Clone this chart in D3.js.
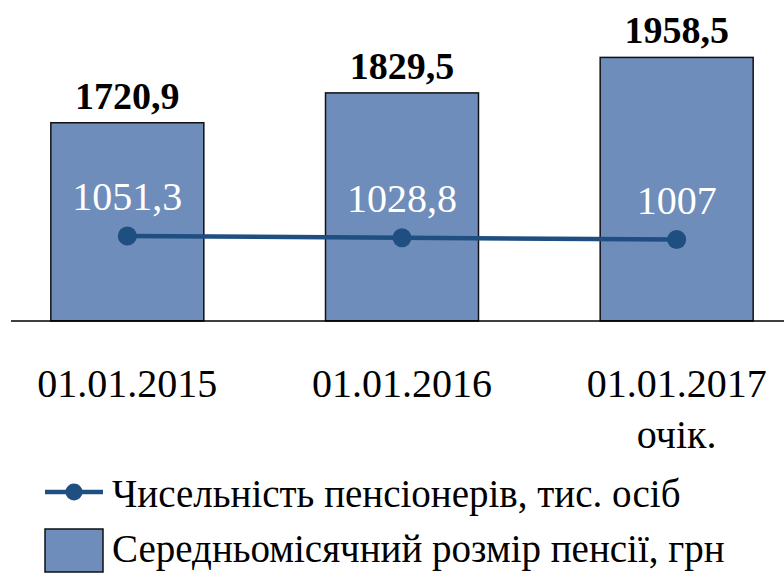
<!DOCTYPE html>
<html>
<head>
<meta charset="utf-8">
<script src="https://d3js.org/d3.v7.min.js"></script>
<style>
    body { margin: 0; background: #fff; }
    svg text, svg tspan { font-family: "Liberation Serif", "Times New Roman", Tinos, serif !important; }
</style>
</head>
<body>
<script>
        // Data
        const dates = ["01.01.2015", "01.01.2016", "01.01.2017"];
        const dateNotes = ["", "", "очік."];
        const avgPension = [1720.9, 1829.5, 1958.5];     // bars, грн
        const pensioners = [1051.3, 1028.8, 1007];        // line, тис. осіб
        const seriesNames = ["Чисельність пенсіонерів, тис. осіб", "Середньомісячний розмір пенсії, грн"];

        const width = 784, height = 575;
        const barColor = "#6f8dba";
        const lineColor = "#1f4e80";
        const font = '"Liberation Serif", "Times New Roman", Tinos, serif';
        const fmt = v => String(v).replace(".", ",");

        const svg = d3.select("body").append("svg")
            .attr("width", width)
            .attr("height", height);

        // every label gets the serif face
        const serif = sel => sel.attr("font-family", font).style("font-family", font, "important");

        const x = d3.scaleBand()
            .domain(dates)
            .range([-10, 814])
            .paddingInner(0.443)
            .paddingOuter(0.2215);

        // primary axis (bars) and secondary axis (line)
        const yBar = d3.scaleLinear().domain([1000, 2000]).range([321, 46]);
        const yLine = d3.scaleLinear().domain([0, 3400]).range([321, 46]);

        // bars
        svg.selectAll("rect.bar")
            .data(avgPension)
            .join("rect")
            .attr("class", "bar")
            .attr("x", (d, i) => x(dates[i]))
            .attr("y", d => yBar(d))
            .attr("width", x.bandwidth())
            .attr("height", d => yBar.range()[0] - yBar(d))
            .attr("fill", barColor)
            .attr("stroke", "#111")
            .attr("stroke-width", 1.5);

        // bar labels
        svg.selectAll("text.barlab")
            .data(avgPension)
            .join("text")
            .attr("class", "barlab")
            .attr("x", (d, i) => x(dates[i]) + x.bandwidth() / 2)
            .attr("y", d => yBar(d) - 14)
            .attr("text-anchor", "middle")
            .attr("font-weight", "bold")
            .attr("font-size", 38)
            .attr("fill", "#000")
            .call(serif)
            .text(fmt);

        // category axis line
        svg.append("line")
            .attr("x1", 11).attr("x2", width)
            .attr("y1", 321).attr("y2", 321)
            .attr("stroke", "#000")
            .attr("stroke-width", 1.5);

        // line series
        const cx = i => x(dates[i]) + x.bandwidth() / 2;
        const line = d3.line()
            .x((d, i) => cx(i))
            .y(d => yLine(d));

        svg.append("path")
            .datum(pensioners)
            .attr("d", line)
            .attr("fill", "none")
            .attr("stroke", lineColor)
            .attr("stroke-width", 4.5);

        svg.selectAll("circle.pt")
            .data(pensioners)
            .join("circle")
            .attr("class", "pt")
            .attr("cx", (d, i) => cx(i))
            .attr("cy", d => yLine(d))
            .attr("r", 9.5)
            .attr("fill", lineColor);

        svg.selectAll("text.ptlab")
            .data(pensioners)
            .join("text")
            .attr("class", "ptlab")
            .attr("x", (d, i) => cx(i))
            .attr("y", d => yLine(d) - 26)
            .attr("text-anchor", "middle")
            .attr("font-size", 40)
            .attr("fill", "#fff")
            .call(serif)
            .text(fmt);

        // category labels
        const cats = svg.selectAll("text.cat")
            .data(dates)
            .join("text")
            .attr("class", "cat")
            .attr("x", d => x(d) + x.bandwidth() / 2)
            .attr("y", 397)
            .attr("text-anchor", "middle")
            .attr("font-size", 40)
            .attr("fill", "#000")
            .call(serif);
        cats.append("tspan").text(d => d);
        cats.append("tspan")
            .attr("x", d => x(d) + x.bandwidth() / 2)
            .attr("dy", 51)
            .text((d, i) => dateNotes[i]);

        // legend
        const lg = svg.append("g");
        lg.append("line")
            .attr("x1", 45).attr("x2", 103)
            .attr("y1", 492).attr("y2", 492)
            .attr("stroke", lineColor)
            .attr("stroke-width", 4.5);
        lg.append("circle")
            .attr("cx", 74).attr("cy", 492).attr("r", 8.5)
            .attr("fill", lineColor);
        lg.append("text")
            .attr("x", 112).attr("y", 507)
            .attr("font-size", 39)
            .call(serif)
            .text(seriesNames[0]);

        lg.append("rect")
            .attr("x", 45).attr("y", 529)
            .attr("width", 58).attr("height", 43)
            .attr("fill", barColor)
            .attr("stroke", "#111")
            .attr("stroke-width", 1.5);
        lg.append("text")
            .attr("x", 112).attr("y", 562)
            .attr("font-size", 39)
            .call(serif)
            .text(seriesNames[1]);
</script>
</body>
</html>
